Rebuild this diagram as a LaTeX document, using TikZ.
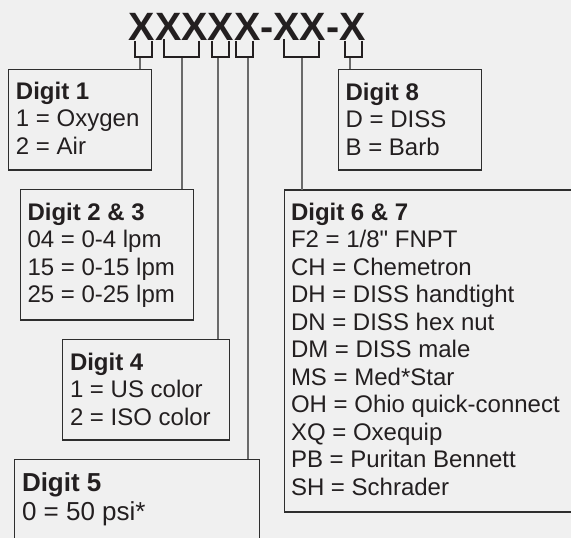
\documentclass[tikz,border=0pt]{standalone}
\usepackage{fontspec}
\setmainfont{Liberation Sans}[Ligatures=TeXOff]
\definecolor{bg}{HTML}{F0F0F0}
\definecolor{ink}{HTML}{231F20}
\definecolor{frame}{HTML}{2E2E2E}
\definecolor{conngray}{HTML}{6A6A6A}
\begin{document}
\begin{tikzpicture}[x=1pt,y=-1pt,
  box/.style={draw=frame, line width=1.3pt, fill=bg, anchor=north west, inner sep=0pt, outer sep=0pt},
  txt/.style={anchor=base west, inner sep=0pt, outer sep=0pt, text=ink, font=\fontsize{24}{27.5}\selectfont},
  bigtxt/.style={txt, font=\fontsize{26}{28.3}\selectfont},
  brk/.style={draw=ink, line width=2.2pt},
  conn/.style={draw=conngray, line width=2pt},
  title/.style={anchor=base west, inner sep=0pt, text=ink, font=\fontsize{39.5}{44}\selectfont\bfseries}]
\fill[bg] (0,0) rectangle (571,538);
\useasboundingbox (0,0) rectangle (571,538);
\clip (0,0) rectangle (571,538);

% title
\node[title] (code) at (128.5,40.7) {XXXXX-XX-X};

% brackets
\draw[brk] (134.7,41) -- (134.7,57) -- (151.7,57) -- (151.7,41);
\draw[brk] (164.3,39) -- (164.3,57) -- (199.3,57) -- (199.3,41);
\draw[brk] (212.3,41) -- (212.3,57) -- (229.3,57) -- (229.3,41);
\draw[brk] (236.3,41) -- (236.3,57) -- (253.3,57) -- (253.3,41);
\draw[brk] (284.3,39) -- (284.3,57) -- (319.3,57) -- (319.3,41);
\draw[brk] (344.7,41) -- (344.7,57) -- (362,57) -- (362,41);
\coordinate (k1) at (140,58);
\coordinate (k23) at (181.7,58);
\coordinate (k4) at (217.7,58);
\coordinate (k5) at (247.5,58);
\coordinate (k67) at (301.7,58);
\coordinate (k8) at (350,58);

% boxes
\node[box, minimum width=143.4pt, minimum height=100.7pt] (d1) at (8.3,69.3) {};
\node[box, minimum width=143pt, minimum height=100.7pt] (d8) at (338.3,69.3) {};
\node[box, minimum width=172.6pt, minimum height=130.7pt] (d23) at (20.7,189.3) {};
\node[box, minimum width=166.6pt, minimum height=100.7pt] (d4) at (62.7,339.3) {};
\node[box, minimum width=245pt, minimum height=100pt] (d5) at (14.3,459.3) {};
\node[box, minimum width=300pt, minimum height=322pt] (d67) at (284.3,190) {};

% connectors
\draw[conn] (k1) -- (k1 |- d1.north);
\draw[conn] (k23) -- (k23 |- d23.north);
\draw[conn] (k4) -- (k4 |- d4.north);
\draw[conn] (k5) -- (k5 |- d5.north);
\draw[conn] (k67) -- (k67 |- d67.north);
\draw[conn] (k8) -- (k8 |- d8.north);

% texts
\node[txt] (t1) at (16,99.3) {\vtop{\hbox{\bfseries Digit 1}\hbox{1 = Oxygen}\hbox{2 = Air}}};
\node[txt] (t8) at (345.6,100) {\vtop{\hbox{\bfseries Digit 8}\hbox{D = DISS}\hbox{B = Barb}}};
\node[txt] (t23) at (27.5,220) {\vtop{\hbox{\bfseries Digit 2 \& 3}\hbox{04 = 0-4 lpm}\hbox{15 = 0-15 lpm}\hbox{25 = 0-25 lpm}}};
\node[txt] (t4) at (70,370) {\vtop{\hbox{\bfseries Digit 4}\hbox{1 = US color}\hbox{2 = ISO color}}};
\node[bigtxt] (t5) at (22,491.7) {\vtop{\hbox{\bfseries Digit 5}\hbox{0 = 50 psi*}}};
\node[txt] (t67) at (291,220) {\vtop{\hbox{\bfseries Digit 6 \& 7}\hbox{F2 = 1/8" FNPT}\hbox{CH = Chemetron}\hbox{DH = DISS handtight}\hbox{DN = DISS hex nut}\hbox{DM = DISS male}\hbox{MS = Med*Star}\hbox{OH = Ohio quick-connect}\hbox{XQ = Oxequip}\hbox{PB = Puritan Bennett}\hbox{SH = Schrader}}};
\end{tikzpicture}
\end{document}
